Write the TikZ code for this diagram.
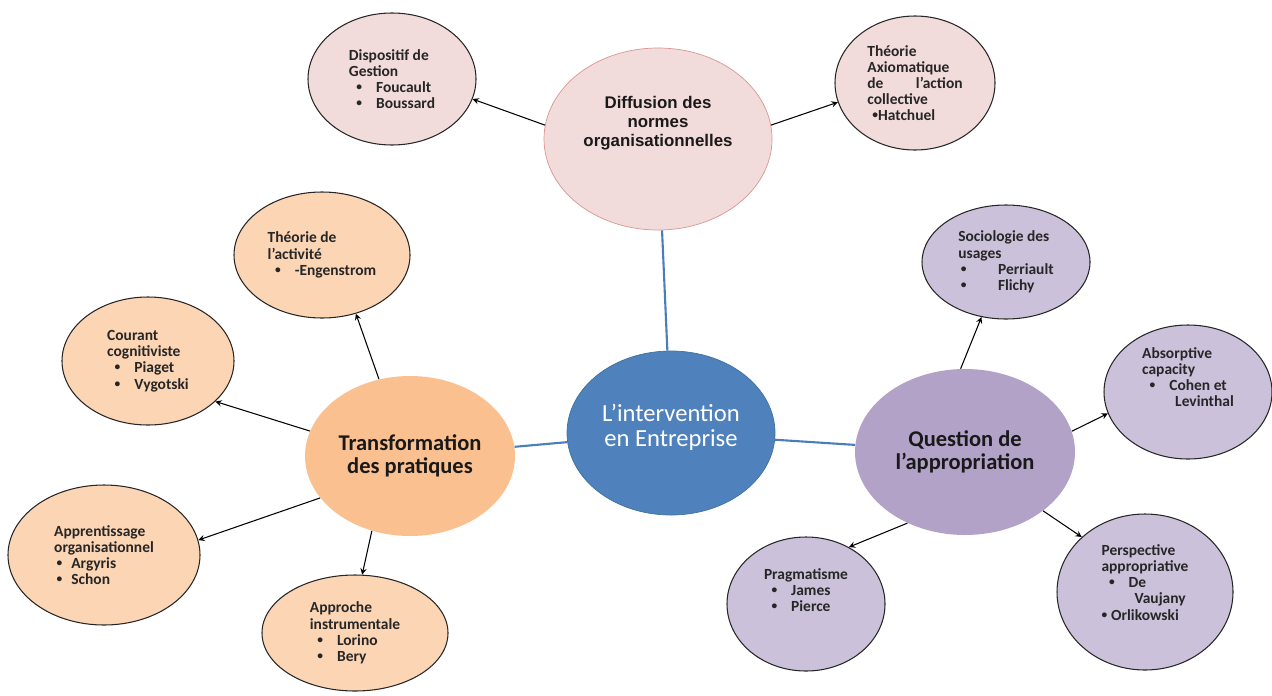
\documentclass[tikz,border=0pt]{standalone}
\usepackage{fontspec}
\setmainfont{Carlito}
\newfontfamily\arialfont{Liberation Sans}
\usetikzlibrary{shapes.geometric, arrows}
\definecolor{hubblue}{HTML}{4F81BD}
\definecolor{hubblueedge}{HTML}{41719C}
\definecolor{linkblue}{HTML}{4A7EBB}
\definecolor{pinklight}{HTML}{F2DCDB}
\definecolor{pinkedge}{HTML}{D99694}
\definecolor{peachmain}{HTML}{FAC090}
\definecolor{peachlight}{HTML}{FCD5B5}
\definecolor{lilacmain}{HTML}{B3A2C7}
\definecolor{lilaclight}{HTML}{CCC1DA}
\newcommand{\bdot}{\raisebox{0.25ex}{\fontsize{6.5}{6.5}\selectfont\textbullet}}
\newcommand{\blt}[1]{\hspace*{1.5mm}\bdot\hspace{2.8mm}#1}
\tikzstyle{bubble} = [ellipse, draw=black!85, semithick, inner sep=0pt, align=left, text=black!85, font=\bfseries\fontsize{8.8}{9.2}\selectfont]
\tikzstyle{pinkbub} = [bubble, fill=pinklight]
\tikzstyle{peachbub} = [bubble, fill=peachlight]
\tikzstyle{lilacbub} = [bubble, fill=lilaclight]
\tikzstyle{hub} = [ellipse, inner sep=0pt, align=center, text=black!90, font=\bfseries\fontsize{12.8}{13}\selectfont]
\tikzstyle{arrow} = [semithick,->,>=stealth]
\tikzstyle{link} = [line width=1.2pt, draw=linkblue]

\begin{document}
\begin{tikzpicture}[x=0.2mm, y=-0.2mm]
		\useasboundingbox (0,0) rectangle (1272,695);
		% hubs
		\node (entr) [hub, fill=hubblue, draw=hubblueedge, text=white, minimum width=41.6mm, minimum height=32.8mm, font=\fontsize{14}{14.5}\selectfont, text depth=9pt] at (671,433) {L'intervention\\en Entreprise};
		\node (diff) [hub, fill=pinklight, draw=pinkedge, minimum width=45.6mm, minimum height=36.4mm, font=\arialfont\bfseries\fontsize{9.6}{10.8}\selectfont, text depth=20pt] at (658,139) {Diffusion des\\normes\\organisationnelles};
		\node (trans) [hub, fill=peachmain, minimum width=42mm, minimum height=32mm] at (410,456) {Transformation\\des pratiques};
		\node (quest) [hub, fill=lilacmain, minimum width=44mm, minimum height=33.2mm] at (965,452) {Question de\\l'appropriation};
		% diffusion
		\node (disp) [pinkbub, minimum width=33.6mm, minimum height=26.4mm] at (392,79) {Dispositif de\\Gestion\\\blt{Foucault}\\\blt{Boussard}};
		\node (axio) [pinkbub, minimum width=32mm, minimum height=26.8mm] at (915,83) {Théorie\\Axiomatique\\de\hspace{6.5mm}l'action\\collective\\\hspace*{1mm}\bdot Hatchuel};
		% transformation
		\node (activ) [peachbub, minimum width=35.2mm, minimum height=25.2mm] at (322,255) {Théorie de\\l'activité\\\blt{-Engenstrom}};
		\node (cogn) [peachbub, minimum width=34.4mm, minimum height=25.6mm] at (148,361) {Courant\\cognitiviste\\\blt{Piaget}\\\blt{Vygotski}};
		\node (appr) [peachbub, minimum width=38.4mm, minimum height=28mm] at (104,555) {Apprentissage\\organisationnel\\\hspace*{0.5mm}\bdot\hspace{1.8mm}Argyris\\\hspace*{0.5mm}\bdot\hspace{1.8mm}Schon};
		\node (instr) [peachbub, minimum width=37.2mm, minimum height=23.2mm] at (355,633) {Approche\\instrumentale\\\blt{Lorino}\\\blt{Bery}};
		% appropriation
		\node (socio) [lilacbub, minimum width=33.6mm, minimum height=22.8mm] at (1006,262) {Sociologie des\\usages\\\hspace*{0.5mm}\bdot\hspace{6.3mm}Perriault\\\hspace*{0.5mm}\bdot\hspace{6.3mm}Flichy};
		\node (absor) [lilacbub, minimum width=33.6mm, minimum height=26.8mm, text depth=17pt] at (1188,392) {Absorptive\\capacity\\\blt{Cohen et}\\\hspace*{6.6mm}Levinthal};
		\node (pragm) [lilacbub, minimum width=31.6mm, minimum height=26.8mm, text depth=16pt] at (806,604) {Pragmatisme\\\blt{James}\\\blt{Pierce}};
		\node (persp) [lilacbub, minimum width=35.2mm, minimum height=31.2mm, text depth=11pt] at (1145,592) {Perspective\\appropriative\\\blt{De}\\\hspace*{6.6mm}Vaujany\\\bdot\hspace{0.8mm}Orlikowski};
		% links
		\draw [link] (entr) -- (diff);
		\draw [link] (entr) -- (trans);
		\draw [link] (entr) -- (quest);
		\draw [arrow] (diff.173) -- (disp.-14);
		\draw [arrow] (diff.7) -- (axio.194);
		\draw [arrow] (trans.112) -- (activ.-60);
		\draw [arrow] (trans.166) -- (cogn.-31);
		\draw [arrow] (trans.205) -- (appr.9);
		\draw [arrow] (trans.243) -- (instr.83);
		\draw [arrow] (quest.93) -- (socio.246);
		\draw [arrow] (quest.11) -- (absor.195);
		\draw [arrow] (quest.231) -- (pragm.53);
		\draw [arrow] (quest.323) -- (persp.139);
	\end{tikzpicture}
\end{document}
